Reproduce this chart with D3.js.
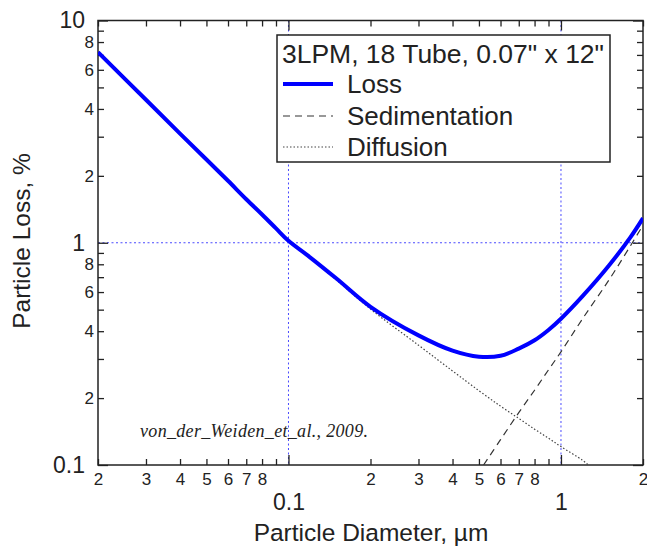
<!DOCTYPE html>
<html>
<head>
<meta charset="utf-8">
<script src="https://cdn.jsdelivr.net/npm/d3@7/dist/d3.min.js"></script>
<style>
  body { margin: 0; background: #fff; }
  text { font-family: Arial, "Liberation Sans", sans-serif; fill: #222; }
</style>
</head>
<body>
<div id="chart"></div>
<script>
var width = 647;
var height = 550;

// particle diameter, um  /  loss, %
var lossD = [0.02, 0.03, 0.04, 0.05, 0.06, 0.07, 0.08, 0.09, 0.1, 0.12, 0.15, 0.2, 0.3, 0.4, 0.5, 0.6, 0.7, 0.8, 0.9, 1.0, 1.2, 1.5, 1.8, 2.0];
var lossPct = [7.2, 4.4, 3.1, 2.37, 1.9, 1.57, 1.34, 1.16, 1.02, 0.86, 0.69, 0.515, 0.383, 0.327, 0.307, 0.31, 0.334, 0.364, 0.405, 0.455, 0.575, 0.79, 1.06, 1.29];

var sedD = [0.52, 0.6, 0.7, 0.8, 0.9, 1.0, 1.2, 1.5, 1.8, 2.0];
var sedPct = [0.1, 0.13, 0.172, 0.217, 0.268, 0.323, 0.455, 0.68, 0.97, 1.2];

var diffD = [0.02, 0.03, 0.04, 0.05, 0.06, 0.07, 0.08, 0.09, 0.1, 0.12, 0.15, 0.2, 0.3, 0.4, 0.5, 0.6, 0.7, 0.8, 0.9, 1.0, 1.2, 1.26];
var diffPct = [7.2, 4.4, 3.1, 2.37, 1.9, 1.57, 1.34, 1.16, 1.02, 0.855, 0.68, 0.503, 0.346, 0.265, 0.216, 0.184, 0.162, 0.145, 0.132, 0.121, 0.105, 0.1];

var xMinorTicks = [0.02, 0.03, 0.04, 0.05, 0.06, 0.07, 0.08, 0.09, 0.2, 0.3, 0.4, 0.5, 0.6, 0.7, 0.8, 0.9, 2];
var xMinorLabels = ["2", "3", "4", "5", "6", "7", "8", "", "2", "3", "4", "5", "6", "7", "8", "", "2"];
var xMajorTicks = [0.1, 1];
var xMajorLabels = ["0.1", "1"];

var yMinorTicks = [0.2, 0.3, 0.4, 0.5, 0.6, 0.7, 0.8, 0.9, 2, 3, 4, 5, 6, 7, 8, 9];
var yMinorLabels = ["2", "", "4", "", "6", "", "8", "", "2", "", "4", "", "6", "", "8", ""];
var yMajorTicks = [0.1, 1, 10];
var yMajorLabels = ["0.1", "1", "10"];

var gridX = [0.1, 1];
var gridY = [1];

var legendTitle = "3LPM, 18 Tube, 0.07\" x 12\"";
var seriesNames = ["Loss", "Sedimentation", "Diffusion"];

var margin = {left: 98, top: 20.5, right: 4, bottom: 85};
var pw = width - margin.left - margin.right;
var ph = height - margin.top - margin.bottom;

var svg = d3.select("#chart")
            .append("svg")
            .attr("width", width)
            .attr("height", height);

var x = d3.scaleLog()
          .domain([0.02, 2])
          .range([0, pw]);

var y = d3.scaleLog()
          .domain([0.1, 10])
          .range([ph, 0]);

var group = svg.append("g")
               .attr("transform", "translate(" + margin.left + "," + margin.top + ")");

group.append("clipPath").attr("id", "clip")
     .append("rect").attr("width", pw).attr("height", ph);

// blue dotted grid
group.selectAll(".gx").data(gridX).enter().append("line")
     .attr("x1", function(d) { return x(d); }).attr("x2", function(d) { return x(d); })
     .attr("y1", 0).attr("y2", ph)
     .attr("stroke", "#4a4aff").attr("stroke-width", 1).attr("stroke-dasharray", "2,2.5");
group.selectAll(".gy").data(gridY).enter().append("line")
     .attr("y1", function(d) { return y(d); }).attr("y2", function(d) { return y(d); })
     .attr("x1", 0).attr("x2", pw)
     .attr("stroke", "#4a4aff").attr("stroke-width", 1).attr("stroke-dasharray", "2,2.5");

function axisStyle(g) {
  g.select(".domain").remove();
  g.selectAll("line").attr("stroke", "#222").attr("stroke-width", 1.3);
  g.selectAll("text").attr("fill", "#222").style("font-family", "Arial, 'Liberation Sans', sans-serif");
}

// bottom axis
group.append("g")
     .attr("transform", "translate(0," + ph + ")")
     .call(d3.axisBottom(x).tickValues(xMinorTicks).tickSize(-6).tickPadding(8)
             .tickFormat(function(d, i) { return xMinorLabels[i]; }))
     .call(axisStyle)
     .style("font-size", "17px");
group.append("g")
     .attr("transform", "translate(0," + ph + ")")
     .call(d3.axisBottom(x).tickValues(xMajorTicks).tickSize(-10).tickPadding(29)
             .tickFormat(function(d, i) { return xMajorLabels[i]; }))
     .call(axisStyle)
     .style("font-size", "23px");
// top axis, ticks only
group.append("g")
     .call(d3.axisTop(x).tickValues(xMinorTicks).tickSize(-6).tickFormat(""))
     .call(axisStyle);
group.append("g")
     .call(d3.axisTop(x).tickValues(xMajorTicks).tickSize(-10).tickFormat(""))
     .call(axisStyle);

// left axis
group.append("g")
     .call(d3.axisLeft(y).tickValues(yMinorTicks).tickSize(-6).tickPadding(4)
             .tickFormat(function(d, i) { return yMinorLabels[i]; }))
     .call(axisStyle)
     .style("font-size", "17px");
group.append("g")
     .call(d3.axisLeft(y).tickValues(yMajorTicks).tickSize(-10).tickPadding(13)
             .tickFormat(function(d, i) { return yMajorLabels[i]; }))
     .call(axisStyle)
     .style("font-size", "23px");
// right axis, ticks only
group.append("g")
     .attr("transform", "translate(" + pw + ",0)")
     .call(d3.axisRight(y).tickValues(yMinorTicks).tickSize(-6).tickFormat(""))
     .call(axisStyle);
group.append("g")
     .attr("transform", "translate(" + pw + ",0)")
     .call(d3.axisRight(y).tickValues(yMajorTicks).tickSize(-10).tickFormat(""))
     .call(axisStyle);

// frame
group.append("rect")
     .attr("width", pw).attr("height", ph)
     .attr("fill", "none").attr("stroke", "#222").attr("stroke-width", 1.5);

var line = d3.line()
             .x(function(d) { return x(d[0]); })
             .y(function(d) { return y(d[1]); })
             .curve(d3.curveCatmullRom.alpha(0.5));

var plot = group.append("g").attr("clip-path", "url(#clip)");

plot.append("path")
    .datum(d3.zip(diffD, diffPct))
    .attr("d", line)
    .attr("fill", "none").attr("stroke", "#444").attr("stroke-width", 1.2)
    .attr("stroke-dasharray", "1.5,2");

plot.append("path")
    .datum(d3.zip(sedD, sedPct))
    .attr("d", line)
    .attr("fill", "none").attr("stroke", "#333").attr("stroke-width", 1.2)
    .attr("stroke-dasharray", "7,5");

plot.append("path")
    .datum(d3.zip(lossD, lossPct))
    .attr("d", line)
    .attr("fill", "none").attr("stroke", "#0000ff").attr("stroke-width", 4);

// legend
var legend = svg.append("g").attr("transform", "translate(277,35)");
legend.append("rect")
      .attr("width", 333).attr("height", 127)
      .attr("fill", "#fff").attr("stroke", "#222").attr("stroke-width", 1.5);
legend.append("text")
      .attr("x", 5).attr("y", 28)
      .attr("textLength", 322).attr("lengthAdjust", "spacingAndGlyphs")
      .style("font-size", "26px")
      .text(legendTitle);
var styles = [
  {stroke: "#0000ff", width: 4, dash: null},
  {stroke: "#333", width: 1.2, dash: "7,5"},
  {stroke: "#444", width: 1.2, dash: "1.5,2"}
];
var rowY = [49, 81, 112];
seriesNames.forEach(function(name, i) {
  legend.append("line")
        .attr("x1", 6).attr("x2", 56)
        .attr("y1", rowY[i]).attr("y2", rowY[i])
        .attr("stroke", styles[i].stroke).attr("stroke-width", styles[i].width)
        .attr("stroke-dasharray", styles[i].dash);
  legend.append("text")
        .attr("x", 70).attr("y", rowY[i] + 9)
        .style("font-size", "26px")
        .text(name);
});

// axis titles
svg.append("text")
   .attr("x", 371).attr("y", 541)
   .attr("text-anchor", "middle")
   .style("font-size", "24.5px")
   .text("Particle Diameter, \u00b5m");

svg.append("text")
   .attr("transform", "translate(30,241) rotate(-90)")
   .attr("text-anchor", "middle")
   .style("font-size", "24.5px")
   .text("Particle Loss, %");

// citation
svg.append("text")
   .attr("x", 140).attr("y", 437)
   .attr("textLength", 228).attr("lengthAdjust", "spacing")
   .style("font-family", "'Liberation Serif', 'DejaVu Serif', serif")
   .style("font-style", "italic")
   .style("font-size", "18px")
   .text("von_der_Weiden_et_al., 2009.");
</script>
</body>
</html>
